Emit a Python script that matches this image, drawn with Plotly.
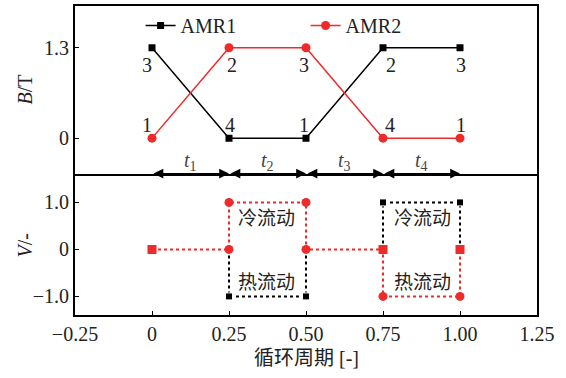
import plotly.graph_objects as go

# ---- data -------------------------------------------------------------
cycle = [0, 0.25, 0.5, 0.75, 1.0]
b_amr1 = [1.3, 0, 0, 1.3, 1.3]
b_amr2 = [0, 1.3, 1.3, 0, 0]
state_amr1 = ["3", "4", "1", "2", "3"]
state_amr2 = ["1", "2", "3", "4", "1"]

v_amr1_x = [0.25, 0.25, 0.5, 0.5, None, 0.75, 0.75, 1.0, 1.0]
v_amr1_y = [0, -1, -1, 0, None, 0, 1, 1, 0]
v_amr2_x = [0, 0.25, 0.25, 0.5, 0.5, 0.75, 0.75, 1.0, 1.0]
v_amr2_y = [0, 0, 1, 1, 0, 0, -1, -1, 0]

phase_bounds = [0, 0.25, 0.5, 0.75, 1.0]
phase_names = ["1", "2", "3", "4"]

x_ticks = [-0.25, 0, 0.25, 0.5, 0.75, 1.0, 1.25]
x_ticktext = ["\u22120.25", "0", "0.25", "0.50", "0.75", "1.00", "1.25"]
b_ticks = [0, 1.3]
b_ticktext = ["0", "1.3"]
v_ticks = [-1, 0, 1]
v_ticktext = ["\u22121.0", "0", "1.0"]

flow_labels = ["冷流动", "热流动"]
x_title = "循环周期 [-]"
b_title = "<i>B</i>/T"
v_title = "<i>V</i>/-"

# ---- style ------------------------------------------------------------
BLACK = "#000000"
RED = "#EE2A2A"
FONT = "Liberation Serif, Noto Sans CJK SC"
FS = 20
X_RANGE = [-0.25, 1.25]
B_RANGE = [-0.51, 1.9]
V_RANGE = [-1.395, 1.613]
SPLIT = 0.4576
LW = 1.8

fig = go.Figure()

# magnetic field (upper panel)
fig.add_trace(go.Scatter(
    x=cycle, y=b_amr1, name="AMR1", mode="lines+markers",
    line=dict(color=BLACK, width=1.5),
    marker=dict(symbol="square", size=7, color=BLACK),
    xaxis="x2", yaxis="y2"))
fig.add_trace(go.Scatter(
    x=cycle, y=b_amr2, name="AMR2", mode="lines+markers",
    line=dict(color=RED, width=1.5),
    marker=dict(symbol="circle", size=9, color=RED),
    xaxis="x2", yaxis="y2"))

# flow velocity (lower panel)
amr1_sizes = [0 if (v is None or v == 0) else 7 for v in v_amr1_y]
fig.add_trace(go.Scatter(
    x=v_amr1_x, y=v_amr1_y, mode="lines+markers", showlegend=False,
    line=dict(color=BLACK, width=2, dash="3px,3px"),
    marker=dict(symbol="square", size=amr1_sizes, color=BLACK, opacity=1),
    xaxis="x", yaxis="y"))
amr2_symbols = ["square", "circle", "circle", "circle", "circle",
                "square", "circle", "circle", "square"]
fig.add_trace(go.Scatter(
    x=v_amr2_x, y=v_amr2_y, mode="lines+markers", showlegend=False,
    line=dict(color=RED, width=2, dash="3px,3px"),
    marker=dict(symbol=amr2_symbols, size=9, color=RED, opacity=1),
    xaxis="x", yaxis="y"))

annotations = []

# state numbers next to each point
shift_amr1 = [-5, 1, -2, 8, 1]
shift_amr2 = [-5, 3, -2, 7, 1]
for xs, ys, labels, shifts in [(cycle, b_amr1, state_amr1, shift_amr1),
                               (cycle, b_amr2, state_amr2, shift_amr2)]:
    for xv, yv, lab, sh in zip(xs, ys, labels, shifts):
        annotations.append(dict(
            x=xv, y=yv, xref="x2", yref="y2", text=lab, showarrow=False,
            xshift=sh, yshift=-17 if yv > 0 else 13,
            font=dict(family=FONT, size=FS, color="#222")))

# phase arrows along the divider
for i, name in enumerate(phase_names):
    x0, x1 = phase_bounds[i], phase_bounds[i + 1]
    annotations.append(dict(
        x=x1, y=B_RANGE[0], ax=x0, ay=B_RANGE[0],
        xref="x2", yref="y2", axref="x2", ayref="y2",
        text="", showarrow=True, arrowside="end+start",
        arrowhead=2, startarrowhead=2, arrowsize=1.4, startarrowsize=1.4,
        arrowwidth=1.4, arrowcolor=BLACK, standoff=0, startstandoff=0))
    annotations.append(dict(
        x=(x0 + x1) / 2, y=-0.34, xref="x2", yref="y2",
        text=f"<i>t</i><sub>{name}</sub>", showarrow=False,
        font=dict(family=FONT, size=FS, color="#444")))

# flow direction labels
for xc in [0.373, 0.877]:
    annotations.append(dict(x=xc, y=0.655, xref="x", yref="y", text=flow_labels[0],
                            showarrow=False, font=dict(family=FONT, size=19, color="#222")))
    annotations.append(dict(x=xc, y=-0.70, xref="x", yref="y", text=flow_labels[1],
                            showarrow=False, font=dict(family=FONT, size=19, color="#222")))

# axis titles
annotations.append(dict(x=-0.108, y=0.730, xref="paper", yref="paper", text=b_title,
                        textangle=-90, showarrow=False, xanchor="center", yanchor="middle",
                        font=dict(family=FONT, size=FS, color="#222")))
annotations.append(dict(x=-0.108, y=0.225, xref="paper", yref="paper", text=v_title,
                        textangle=-90, showarrow=False, xanchor="center", yanchor="middle",
                        font=dict(family=FONT, size=FS, color="#222")))
annotations.append(dict(x=0.5, y=-0.138, xref="paper", yref="paper", text=x_title,
                        showarrow=False, xanchor="center", yanchor="middle",
                        font=dict(family=FONT, size=FS, color="#222")))

axis_common = dict(showline=True, linecolor=BLACK, linewidth=LW, mirror=True,
                   showgrid=False, zeroline=False, ticks="inside", ticklen=4,
                   tickwidth=1.2, tickcolor=BLACK,
                   tickfont=dict(family=FONT, size=FS, color="#222"))

fig.update_layout(
    width=566, height=378,
    margin=dict(l=75, r=29, t=4, b=63),
    paper_bgcolor="white", plot_bgcolor="white",
    font=dict(family=FONT, size=FS, color="#222"),
    showlegend=True,
    legend=dict(orientation="h", x=0.142, y=1.0, xanchor="left", yanchor="top",
                bgcolor="rgba(0,0,0,0)", font=dict(family=FONT, size=FS),
                entrywidth=120, entrywidthmode="pixels", tracegroupgap=0),
    xaxis=dict(axis_common, mirror=False, domain=[0, 1], range=X_RANGE, anchor="y",
               tickvals=x_ticks, ticktext=x_ticktext),
    yaxis=dict(axis_common, domain=[0, SPLIT], range=V_RANGE, anchor="x",
               tickvals=v_ticks, ticktext=v_ticktext),
    xaxis2=dict(axis_common, domain=[0, 1], range=X_RANGE, anchor="y2",
                matches="x", showticklabels=False, ticks=""),
    yaxis2=dict(axis_common, domain=[SPLIT, 1], range=B_RANGE, anchor="x2",
                tickvals=b_ticks, ticktext=b_ticktext),
    annotations=annotations,
)

fig.write_html("out.html")
